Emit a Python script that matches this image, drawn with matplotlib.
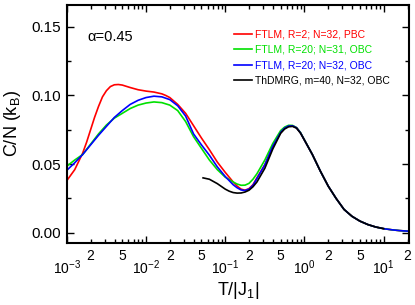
import numpy as np
import matplotlib
matplotlib.use('Agg')
import matplotlib.pyplot as plt
from matplotlib.ticker import FixedLocator, FuncFormatter

plt.rcParams['font.family'] = ['Liberation Sans', 'DejaVu Sans']
plt.rcParams['mathtext.fontset'] = 'custom'
plt.rcParams['mathtext.rm'] = 'Liberation Sans'
plt.rcParams['mathtext.it'] = 'Liberation Sans'

# values, x given as log10(T/|J1|)
logT_red = [-3.0, -2.9, -2.8, -2.75, -2.7, -2.65, -2.6, -2.55, -2.5, -2.45,
            -2.4, -2.35, -2.3, -2.2, -2.1, -2.0, -1.9, -1.8, -1.75, -1.7,
            -1.6, -1.5, -1.4, -1.3, -1.2, -1.1, -1.0, -0.9, -0.85, -0.8,
            -0.75, -0.7, -0.65, -0.6, -0.5, -0.4, -0.3, -0.25, -0.2, -0.15,
            -0.1, -0.05, 0.0, 0.1, 0.2, 0.3, 0.4, 0.5, 0.6, 0.7,
            0.8, 0.9, 1.0, 1.1, 1.2, 1.3]
c_red = [0.038, 0.046, 0.058, 0.066, 0.075, 0.084, 0.092, 0.099, 0.1035, 0.1065,
         0.1078, 0.1080, 0.1076, 0.1058, 0.1042, 0.1032, 0.1025, 0.1012, 0.1000, 0.0985,
         0.0935, 0.0870, 0.0780, 0.0690, 0.0605, 0.0515, 0.0440, 0.0370, 0.0340, 0.0318,
         0.0310, 0.0322, 0.0350, 0.0400, 0.0495, 0.0630, 0.0730, 0.0762, 0.0778, 0.0779,
         0.0765, 0.0728, 0.0675, 0.0570, 0.0450, 0.0340, 0.0250, 0.0170, 0.0120, 0.0085,
         0.0060, 0.0042, 0.0030, 0.0022, 0.0016, 0.0012]

logT_ftlm = [-3.0, -2.9, -2.8, -2.7, -2.6, -2.5, -2.4, -2.3, -2.2, -2.1,
             -2.0, -1.9, -1.8, -1.7, -1.6, -1.5, -1.4, -1.3, -1.2, -1.1,
             -1.0, -0.9, -0.85, -0.8, -0.75, -0.7, -0.65, -0.6, -0.5, -0.4,
             -0.3, -0.25, -0.2, -0.15, -0.1, -0.05, 0.0, 0.1, 0.2, 0.3,
             0.4, 0.5, 0.6, 0.7, 0.8, 0.9, 1.0, 1.1, 1.2, 1.3]
c_green = [0.0485, 0.053, 0.057, 0.0645, 0.072, 0.0785, 0.0835, 0.087, 0.0905, 0.093,
           0.0945, 0.0953, 0.0948, 0.0930, 0.0890, 0.0810, 0.0700, 0.0615, 0.0530, 0.0460,
           0.0405, 0.0370, 0.0355, 0.0346, 0.0347, 0.0360, 0.0390, 0.0430, 0.0530, 0.0650,
           0.0745, 0.0770, 0.0783, 0.0782, 0.0766, 0.0730, 0.0676, 0.0570, 0.0450, 0.0340,
           0.0250, 0.0170, 0.0120, 0.0085, 0.0060, 0.0042, 0.0030, 0.0022, 0.0016, 0.0012]
c_blue = [0.0455, 0.051, 0.057, 0.064, 0.071, 0.0775, 0.084, 0.089, 0.0935, 0.0965,
          0.0985, 0.0995, 0.0990, 0.0970, 0.0925, 0.0850, 0.0720, 0.0640, 0.0565, 0.0480,
          0.0410, 0.0350, 0.0328, 0.0312, 0.0308, 0.0318, 0.0346, 0.0395, 0.0495, 0.0630,
          0.0732, 0.0763, 0.0778, 0.0779, 0.0765, 0.0728, 0.0675, 0.0570, 0.0450, 0.0340,
          0.0250, 0.0170, 0.0120, 0.0085, 0.0060, 0.0042, 0.0030, 0.0022, 0.0016, 0.0012]

logT_dmrg = [-1.28, -1.2, -1.1, -1.0, -0.95, -0.9, -0.85, -0.8, -0.75, -0.7,
             -0.65, -0.6, -0.5, -0.4, -0.3, -0.25, -0.2, -0.15, -0.1, -0.05,
             0.0, 0.1, 0.2, 0.3, 0.4, 0.5, 0.6, 0.7, 0.8, 0.9, 1.0]
c_dmrg = [0.0400, 0.0390, 0.0358, 0.0318, 0.0303, 0.0293, 0.0289, 0.0290, 0.0297, 0.0310,
          0.0335, 0.0370, 0.0470, 0.0610, 0.0725, 0.0756, 0.0772, 0.0775, 0.0762, 0.0726,
          0.0675, 0.0570, 0.0450, 0.0340, 0.0250, 0.0170, 0.0120, 0.0085, 0.0060, 0.0042,
          0.0030]

series = [
    (logT_red, c_red, 'red', 'FTLM, R=2; N=32, PBC'),
    (logT_ftlm, c_green, '#00e000', 'FTLM, R=20; N=31, OBC'),
    (logT_ftlm, c_blue, 'blue', 'FTLM, R=20; N=32, OBC'),
    (logT_dmrg, c_dmrg, 'black', 'ThDMRG, m=40, N=32, OBC'),
]

fig = plt.figure(figsize=(4.15, 3.05), dpi=100)
ax = fig.add_axes([0.161, 0.203, 0.825, 0.781])

for lt, c, color, label in series:
    ax.plot(10 ** np.array(lt), c, color=color, lw=1.2, label=label)

ax.set_xscale('log')
ax.set_xlim(1e-3, 21)
ax.set_ylim(-0.0075, 0.166)

# y ticks
ax.set_yticks([0.0, 0.05, 0.10, 0.15])
ax.set_yticks([0.025, 0.075, 0.125], minor=True)
ax.yaxis.set_major_formatter(FuncFormatter(lambda v, p: '%.2f' % v))

# x ticks: decades labelled low, 2 and 5 labelled high
decades = [1e-3, 1e-2, 1e-1, 1e0, 1e1]
ax.xaxis.set_major_locator(FixedLocator(decades))
ax.xaxis.set_major_formatter(FuncFormatter(lambda v, p: r'$10^{%d}$' % round(np.log10(v))))
minors = [m * d for d in decades for m in range(2, 10)]
ax.xaxis.set_minor_locator(FixedLocator(minors))

def minor_fmt(v, p):
    m = round(v / 10 ** np.floor(np.log10(v) + 1e-9))
    return str(m) if m in (2, 5) else ''

ax.xaxis.set_minor_formatter(FuncFormatter(minor_fmt))

ax.tick_params(which='both', direction='in', top=True, right=True, width=1.0)
ax.tick_params(which='major', length=5)
ax.tick_params(which='minor', length=3)
ax.tick_params(axis='y', which='major', labelsize=11, pad=4)
ax.tick_params(axis='x', which='major', labelsize=10, pad=11)
ax.tick_params(axis='x', which='minor', labelsize=10, pad=4)
for s in ax.spines.values():
    s.set_linewidth(1.5)

ax.set_xlabel(r'T/|J$_1$|', fontsize=13, labelpad=2)
ax.set_ylabel(r'C/N (k$_\mathrm{B}$)', fontsize=13, labelpad=6)

ax.text(0.06, 0.85, r'α=0.45', transform=ax.transAxes, fontsize=10.5)

ax.legend(loc='upper right', bbox_to_anchor=(0.97, 0.935), frameon=False, fontsize=7.5,
          handlelength=1.7, handletextpad=0.3, labelspacing=0.5, labelcolor='linecolor')

fig.savefig('out.png', dpi=100)
